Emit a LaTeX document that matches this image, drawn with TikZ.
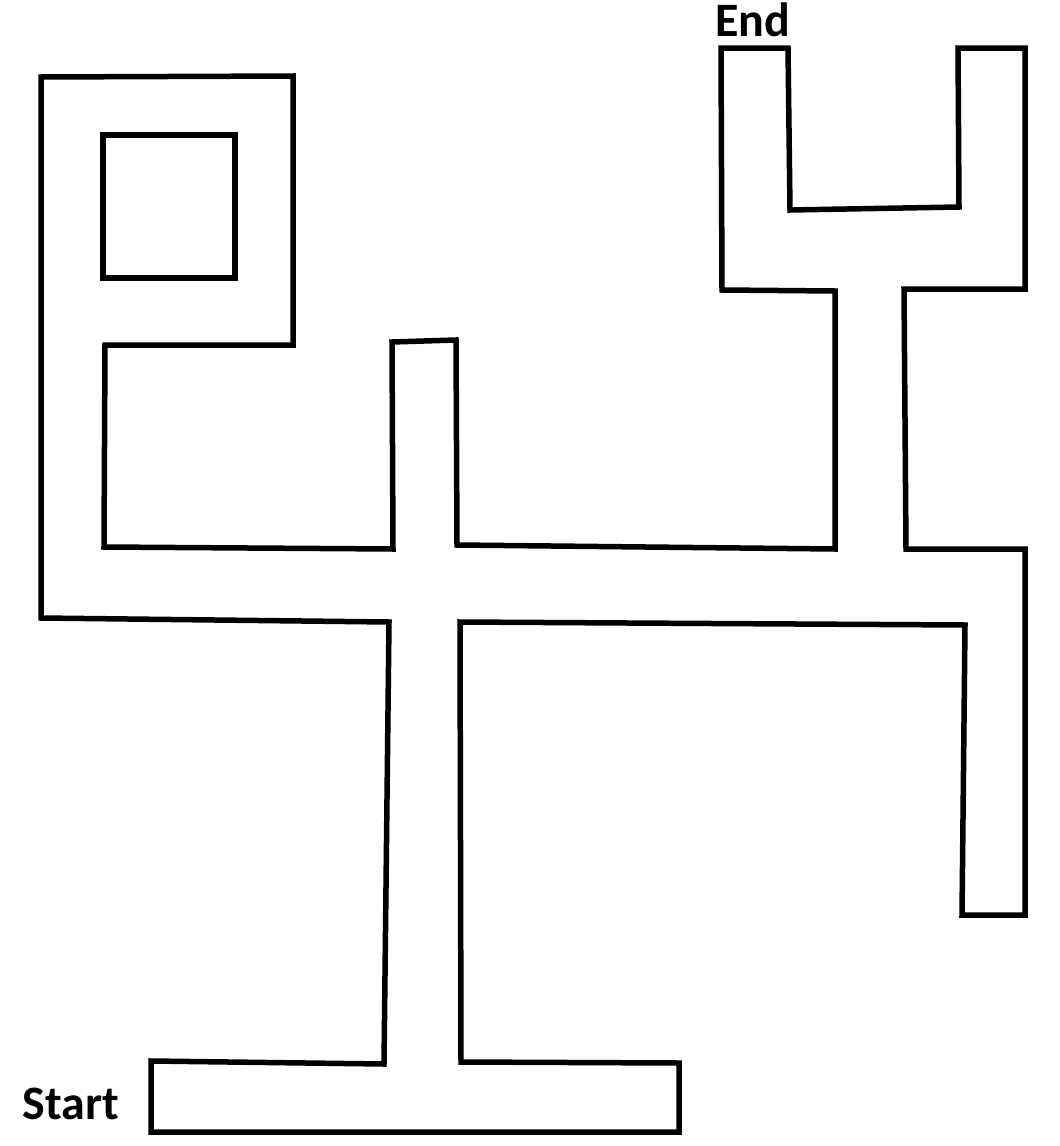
\documentclass[tikz,border=0pt]{standalone}
\usepackage{fontspec}
\setmainfont{Carlito}
\tikzset{
  wall/.style={line width=5.5pt, line join=miter},
  label/.style={font=\bfseries\fontsize{48}{50}\selectfont, inner sep=0pt}
}
\begin{document}
\begin{tikzpicture}[x=1pt,y=-1pt]
    \useasboundingbox (0,0) rectangle (1060,1146);
    % outer wall of the maze
    \draw[wall] (151,1132) -- (679,1132) -- (679,1063) -- (461,1062)
        -- (460,622) -- (965,625) -- (962,915) -- (1025,915)
        -- (1025,549) -- (906,549) -- (904,289) -- (1025,289)
        -- (1025,48) -- (958,48) -- (959,207) -- (790,210)
        -- (788,48) -- (721,48) -- (722,290) -- (835,291)
        -- (835,549) -- (457,545) -- (456,340) -- (392,342)
        -- (393,549) -- (104,547) -- (105,345) -- (293,345)
        -- (293,76) -- (41,77) -- (41,618) -- (389,622)
        -- (384,1064) -- (151,1061) -- cycle;
    % island
    \draw[wall] (103,135) rectangle (235,278);
    \node[label] (start) at (71,1104) {Start};
    \node[label] (end) at (753,20) {End};
\end{tikzpicture}
\end{document}
